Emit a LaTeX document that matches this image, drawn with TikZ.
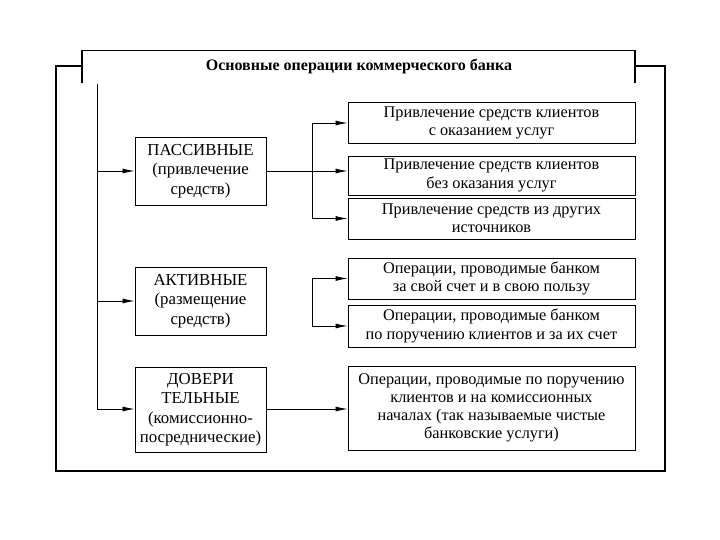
\documentclass[tikz,border=0pt]{standalone}
\usepackage{fontspec}
\setmainfont{Liberation Serif}
\usetikzlibrary{arrows.meta}
\begin{document}
\begin{tikzpicture}[x=1pt,y=-1pt,
  box/.style={draw, line width=0.9pt, align=center, inner sep=0pt},
  lbox/.style={box, minimum width=131pt, font=\fontsize{16.8}{19.5}\selectfont},
  rbox/.style={box, minimum width=287pt, font=\fontsize{16.3}{18.2}\selectfont},
  conn/.style={line width=0.8pt},
  arr/.style={conn, -{Latex[length=12pt,width=5pt]}},
  frame/.style={line width=1.2pt}]
\useasboundingbox (0,0) rectangle (720,540);
% frame
\draw[frame] (82,83) -- (82,50.5) -- (635,50.5) -- (635,83);
\draw[frame] (82,66) -- (56,66) -- (56,471) -- (665,471) -- (665,66) -- (635,66);
\node[font=\bfseries\fontsize{16}{18}\selectfont] (title) at (359,66) {Основные операции коммерческого банка};
% left boxes
\node[lbox, minimum height=68pt] (pas) at (200.5,171) {ПАССИВНЫЕ\\(привлечение\\средств)};
\node[lbox, minimum height=68pt] (akt) at (200.5,301) {АКТИВНЫЕ\\(размещение\\средств)};
\node[lbox, minimum height=85pt] (dov) at (200.5,409.5) {ДОВЕРИ\\ТЕЛЬНЫЕ\\(комиссионно-\\посреднические)};
% right boxes
\node[rbox, minimum height=41pt] (r1) at (491.5,123) {Привлечение средств клиентов\\с оказанием услуг};
\node[rbox, minimum height=39pt] (r2) at (491.5,175.5) {Привлечение средств клиентов\\без оказания услуг};
\node[rbox, minimum height=41pt] (r3) at (491.5,218.5) {Привлечение средств из других\\источников};
\node[rbox, minimum height=41pt] (r4) at (491.5,278.5) {Операции, проводимые банком\\за свой счет и в свою пользу};
\node[rbox, minimum height=42pt] (r5) at (491.5,326) {Операции, проводимые банком\\по поручению клиентов и за их счет};
\node[rbox, minimum height=84pt] (r6) at (491.5,408) {Операции, проводимые по поручению\\клиентов и на комиссионных\\началах (так называемые чистые\\банковские услуги)};
% spine
\coordinate (sp0) at (97,84);
\coordinate (s1) at (97,171);
\coordinate (s2) at (97,301);
\coordinate (s3) at (97,409);
\draw[conn] (sp0) -- (s3);
\draw[arr] (s1) -- (pas.west |- s1);
\draw[arr] (s2) -- (akt.west |- s2);
\draw[arr] (s3) -- (dov.west |- s3);
% passive branch
\coordinate (b1) at (312,123);
\coordinate (b3) at (312,218.5);
\draw[conn] (b1) -- (b3);
\draw[arr] (pas.east) -- (r2.west |- pas.east);
\draw[arr] (b1) -- (r1.west);
\draw[arr] (b3) -- (r3.west);
% active bracket
\coordinate (a1) at (312,278.5);
\coordinate (a2) at (312,326);
\draw[conn] (a1) -- (a2);
\draw[arr] (a1) -- (r4.west);
\draw[arr] (a2) -- (r5.west);
% trust
\draw[arr] (dov.east |- s3) -- (r6.west |- s3);
\end{tikzpicture}
\end{document}
